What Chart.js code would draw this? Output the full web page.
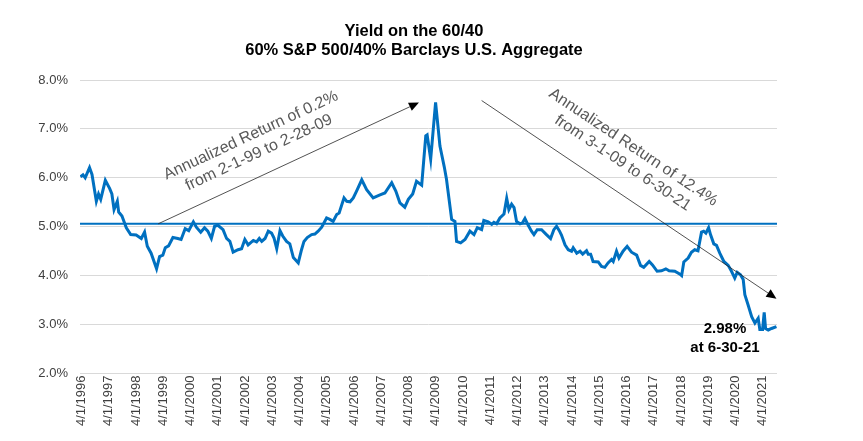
<!DOCTYPE html>
<html>
<head>
<meta charset="utf-8">
<script src="https://cdn.jsdelivr.net/npm/chart.js@4.4.1/dist/chart.umd.min.js"></script>
<style>
  html, body { margin: 0; padding: 0; background: #fff; }
  #wrap { width: 863px; height: 441px; }
</style>
</head>
<body>
<div id="wrap"><canvas id="yieldChart" width="863" height="441"></canvas></div>
<script>
(() => {
  "use strict";

  const FONT = "'Liberation Sans', Arial, sans-serif";
  const BLUE = "#0070C0";

  const titleLines = ["Yield on the 60/40", "60% S&P 500/40% Barclays U.S. Aggregate"];

  // decimal year of each reading and the yield (%)
  const years = [
    1996.21, 1996.30, 1996.38, 1996.54, 1996.63, 1996.79, 1996.87, 1996.95, 1997.12, 1997.28,
    1997.36, 1997.44, 1997.56, 1997.61, 1997.73, 1997.89, 1998.05, 1998.25, 1998.44, 1998.56,
    1998.66, 1998.80, 1999.00, 1999.11, 1999.23, 1999.32, 1999.44, 1999.60, 1999.78, 1999.90,
    2000.05, 2000.18, 2000.35, 2000.46, 2000.62, 2000.76, 2000.88, 2001.01, 2001.13, 2001.25,
    2001.44, 2001.57, 2001.69, 2001.81, 2001.99, 2002.12, 2002.24, 2002.36, 2002.55, 2002.67,
    2002.77, 2002.86, 2002.98, 2003.10, 2003.22, 2003.31, 2003.41, 2003.53, 2003.63, 2003.77,
    2003.89, 2004.02, 2004.20, 2004.32, 2004.41, 2004.53, 2004.69, 2004.81, 2004.93, 2005.06,
    2005.24, 2005.36, 2005.48, 2005.61, 2005.70, 2005.88, 2005.98, 2006.10, 2006.22, 2006.34,
    2006.53, 2006.71, 2006.95, 2007.20, 2007.38, 2007.63, 2007.78, 2007.93, 2008.11, 2008.24,
    2008.40, 2008.54, 2008.73, 2008.88, 2008.93, 2009.06, 2009.24, 2009.40, 2009.56, 2009.64,
    2009.83, 2009.95, 2010.01, 2010.16, 2010.32, 2010.50, 2010.65, 2010.77, 2010.93, 2011.01,
    2011.17, 2011.30, 2011.38, 2011.48, 2011.60, 2011.75, 2011.85, 2011.93, 2012.03, 2012.12,
    2012.21, 2012.34, 2012.43, 2012.52, 2012.64, 2012.76, 2012.85, 2012.97, 2013.13, 2013.29,
    2013.46, 2013.58, 2013.68, 2013.78, 2013.86, 2013.99, 2014.11, 2014.23, 2014.29, 2014.42,
    2014.54, 2014.64, 2014.78, 2014.84, 2014.93, 2015.02, 2015.21, 2015.33, 2015.45, 2015.57,
    2015.70, 2015.76, 2015.88, 2015.97, 2016.12, 2016.27, 2016.43, 2016.62, 2016.76, 2016.88,
    2017.08, 2017.20, 2017.37, 2017.53, 2017.69, 2017.81, 2018.02, 2018.21, 2018.27, 2018.35,
    2018.51, 2018.63, 2018.75, 2018.87, 2019.00, 2019.08, 2019.16, 2019.26, 2019.33, 2019.45,
    2019.55, 2019.67, 2019.82, 2019.98, 2020.10, 2020.22, 2020.31, 2020.43, 2020.53, 2020.59,
    2020.71, 2020.84, 2020.96, 2021.08, 2021.14, 2021.24, 2021.30, 2021.35, 2021.45, 2021.57,
    2021.75
  ];

  const yields = [
    6.02, 6.06, 6.00, 6.21, 6.07, 5.52, 5.67, 5.56, 5.95, 5.78,
    5.67, 5.35, 5.52, 5.30, 5.22, 4.98, 4.84, 4.83, 4.76, 4.89,
    4.60, 4.46, 4.14, 4.39, 4.42, 4.57, 4.61, 4.78, 4.76, 4.74,
    4.96, 4.92, 5.10, 4.99, 4.89, 4.98, 4.91, 4.76, 5.01, 5.03,
    4.94, 4.76, 4.70, 4.48, 4.53, 4.55, 4.74, 4.63, 4.72, 4.69,
    4.76, 4.70, 4.76, 4.91, 4.87, 4.77, 4.55, 4.92, 4.81, 4.70,
    4.65, 4.37, 4.26, 4.53, 4.70, 4.78, 4.84, 4.85, 4.91, 4.99,
    5.18, 5.15, 5.11, 5.25, 5.28, 5.59, 5.52, 5.51, 5.59, 5.73,
    5.96, 5.76, 5.59, 5.65, 5.69, 5.90, 5.73, 5.49, 5.40, 5.56,
    5.67, 5.93, 5.85, 6.86, 6.88, 6.38, 7.54, 6.65, 6.22, 5.97,
    5.15, 5.11, 4.70, 4.67, 4.74, 4.91, 4.84, 4.98, 4.94, 5.13,
    5.10, 5.05, 5.09, 5.06, 5.18, 5.26, 5.58, 5.35, 5.46, 5.39,
    5.11, 5.06, 5.08, 5.17, 5.03, 4.91, 4.84, 4.94, 4.94, 4.85,
    4.76, 4.94, 5.01, 4.92, 4.83, 4.63, 4.53, 4.50, 4.57, 4.46,
    4.50, 4.44, 4.51, 4.44, 4.44, 4.29, 4.28, 4.19, 4.17, 4.26,
    4.33, 4.29, 4.50, 4.36, 4.50, 4.60, 4.48, 4.42, 4.21, 4.17,
    4.29, 4.22, 4.09, 4.10, 4.14, 4.10, 4.09, 4.03, 4.00, 4.28,
    4.36, 4.48, 4.53, 4.51, 4.89, 4.91, 4.87, 4.98, 4.84, 4.65,
    4.62, 4.46, 4.29, 4.21, 4.09, 3.95, 4.07, 4.02, 3.92, 3.61,
    3.40, 3.16, 3.03, 3.13, 2.90, 2.90, 3.25, 2.92, 2.89, 2.92,
    2.96
  ];

  const referenceYield = 5.06;

  const tickYears = [
    1996, 1997, 1998, 1999, 2000, 2001, 2002, 2003, 2004, 2005, 2006, 2007, 2008,
    2009, 2010, 2011, 2012, 2013, 2014, 2015, 2016, 2017, 2018, 2019, 2020, 2021
  ];
  const tickLabels = tickYears.map((y) => `4/1/${y}`);

  const X_MIN = 1996.19;
  const X_MAX = 2021.77;

  // annotation anchors in data space [year, yield]
  const arrows = [
    { from: [1999.06, 5.06], to: [2008.63, 7.54] },
    { from: [2010.93, 7.58], to: [2021.75, 3.53] }
  ];
  const notes = [
    { at: [2002.61, 6.69], angle: -25.0, lines: ["Annualized Return of 0.2%", "from 2-1-99 to 2-28-09"] },
    { at: [2016.30, 6.46], angle: 33.7, lines: ["Annualized Return of 12.4%", "from 3-1-09 to 6-30-21"] }
  ];
  const lastLabel = { at: [2019.86, 2.72], lines: ["2.98%", "at 6-30-21"] };

  const points = years.map((x, i) => ({ x, y: yields[i] }));

  const annotationPlugin = {
    id: "annotations",
    afterDraw(chart) {
      const { ctx, scales } = chart;
      const px = (p) => [scales.x.getPixelForValue(p[0]), scales.y.getPixelForValue(p[1])];

      ctx.save();
      // title, drawn here so it can sit where the original does
      ctx.font = `bold 16.5px ${FONT}`;
      ctx.fillStyle = "#000";
      ctx.textAlign = "center";
      ctx.textBaseline = "middle";
      ctx.fillText(titleLines[0], 414, 31.5);
      ctx.fillText(titleLines[1], 414, 50);

      arrows.forEach((a) => {
        const [x0, y0] = px(a.from);
        const [x1, y1] = px(a.to);
        const ang = Math.atan2(y1 - y0, x1 - x0);
        const head = 10;
        const hw = 4.5;
        const bx = x1 - head * Math.cos(ang);
        const by = y1 - head * Math.sin(ang);
        ctx.strokeStyle = "#262626";
        ctx.lineWidth = 0.8;
        ctx.beginPath();
        ctx.moveTo(x0, y0);
        ctx.lineTo(bx, by);
        ctx.stroke();
        ctx.fillStyle = "#000";
        ctx.beginPath();
        ctx.moveTo(x1, y1);
        ctx.lineTo(bx + hw * Math.sin(ang), by - hw * Math.cos(ang));
        ctx.lineTo(bx - hw * Math.sin(ang), by + hw * Math.cos(ang));
        ctx.closePath();
        ctx.fill();
      });

      ctx.font = `16px ${FONT}`;
      ctx.fillStyle = "#595959";
      notes.forEach((n) => {
        const [cx, cy] = px(n.at);
        ctx.save();
        ctx.translate(cx, cy);
        ctx.rotate((n.angle * Math.PI) / 180);
        ctx.fillText(n.lines[0], 0, -9.5);
        ctx.fillText(n.lines[1], 0, 9.5);
        ctx.restore();
      });

      const [lx, ly] = px(lastLabel.at);
      ctx.font = `bold 15px ${FONT}`;
      ctx.fillStyle = "#000";
      ctx.fillText(lastLabel.lines[0], lx, ly - 9.5);
      ctx.fillText(lastLabel.lines[1], lx, ly + 9.5);
      ctx.restore();
    }
  };

  new Chart(document.getElementById("yieldChart").getContext("2d"), {
    type: "line",
    data: {
      datasets: [
        {
          label: "Yield",
          data: points,
          borderColor: BLUE,
          borderWidth: 3,
          pointRadius: 0,
          tension: 0,
          order: 0
        },
        {
          label: "Reference",
          data: [{ x: X_MIN, y: referenceYield }, { x: X_MAX, y: referenceYield }],
          borderColor: BLUE,
          borderWidth: 2,
          pointRadius: 0,
          order: 1
        }
      ]
    },
    options: {
      responsive: false,
      animation: false,
      layout: { padding: { left: 0, right: 86, top: 80, bottom: 0 } },
      scales: {
        x: {
          type: "linear",
          min: X_MIN,
          max: X_MAX,
          grid: { display: false, drawTicks: false },
          border: { display: false },
          afterBuildTicks(scale) {
            scale.ticks = tickYears.map((y) => ({ value: y + 0.25 }));
          },
          afterFit(scale) {
            scale.height = 67.5;
          },
          ticks: {
            autoSkip: false,
            minRotation: 90,
            maxRotation: 90,
            padding: 2,
            color: "#404040",
            font: { family: FONT, size: 13 },
            callback: (value, index) => tickLabels[index]
          }
        },
        y: {
          min: 2,
          max: 8,
          afterFit(scale) {
            scale.width = 80;
          },
          grid: { color: "#d9d9d9", lineWidth: 1, drawTicks: false },
          border: { display: false },
          ticks: {
            stepSize: 1,
            padding: 12,
            color: "#404040",
            font: { family: FONT, size: 13 },
            callback: (v) => `${Number(v).toFixed(1)}%`
          }
        }
      },
      plugins: {
        legend: { display: false },
        tooltip: { enabled: false },
        title: { display: false }
      }
    },
    plugins: [annotationPlugin]
  });
})();
</script>
</body>
</html>
